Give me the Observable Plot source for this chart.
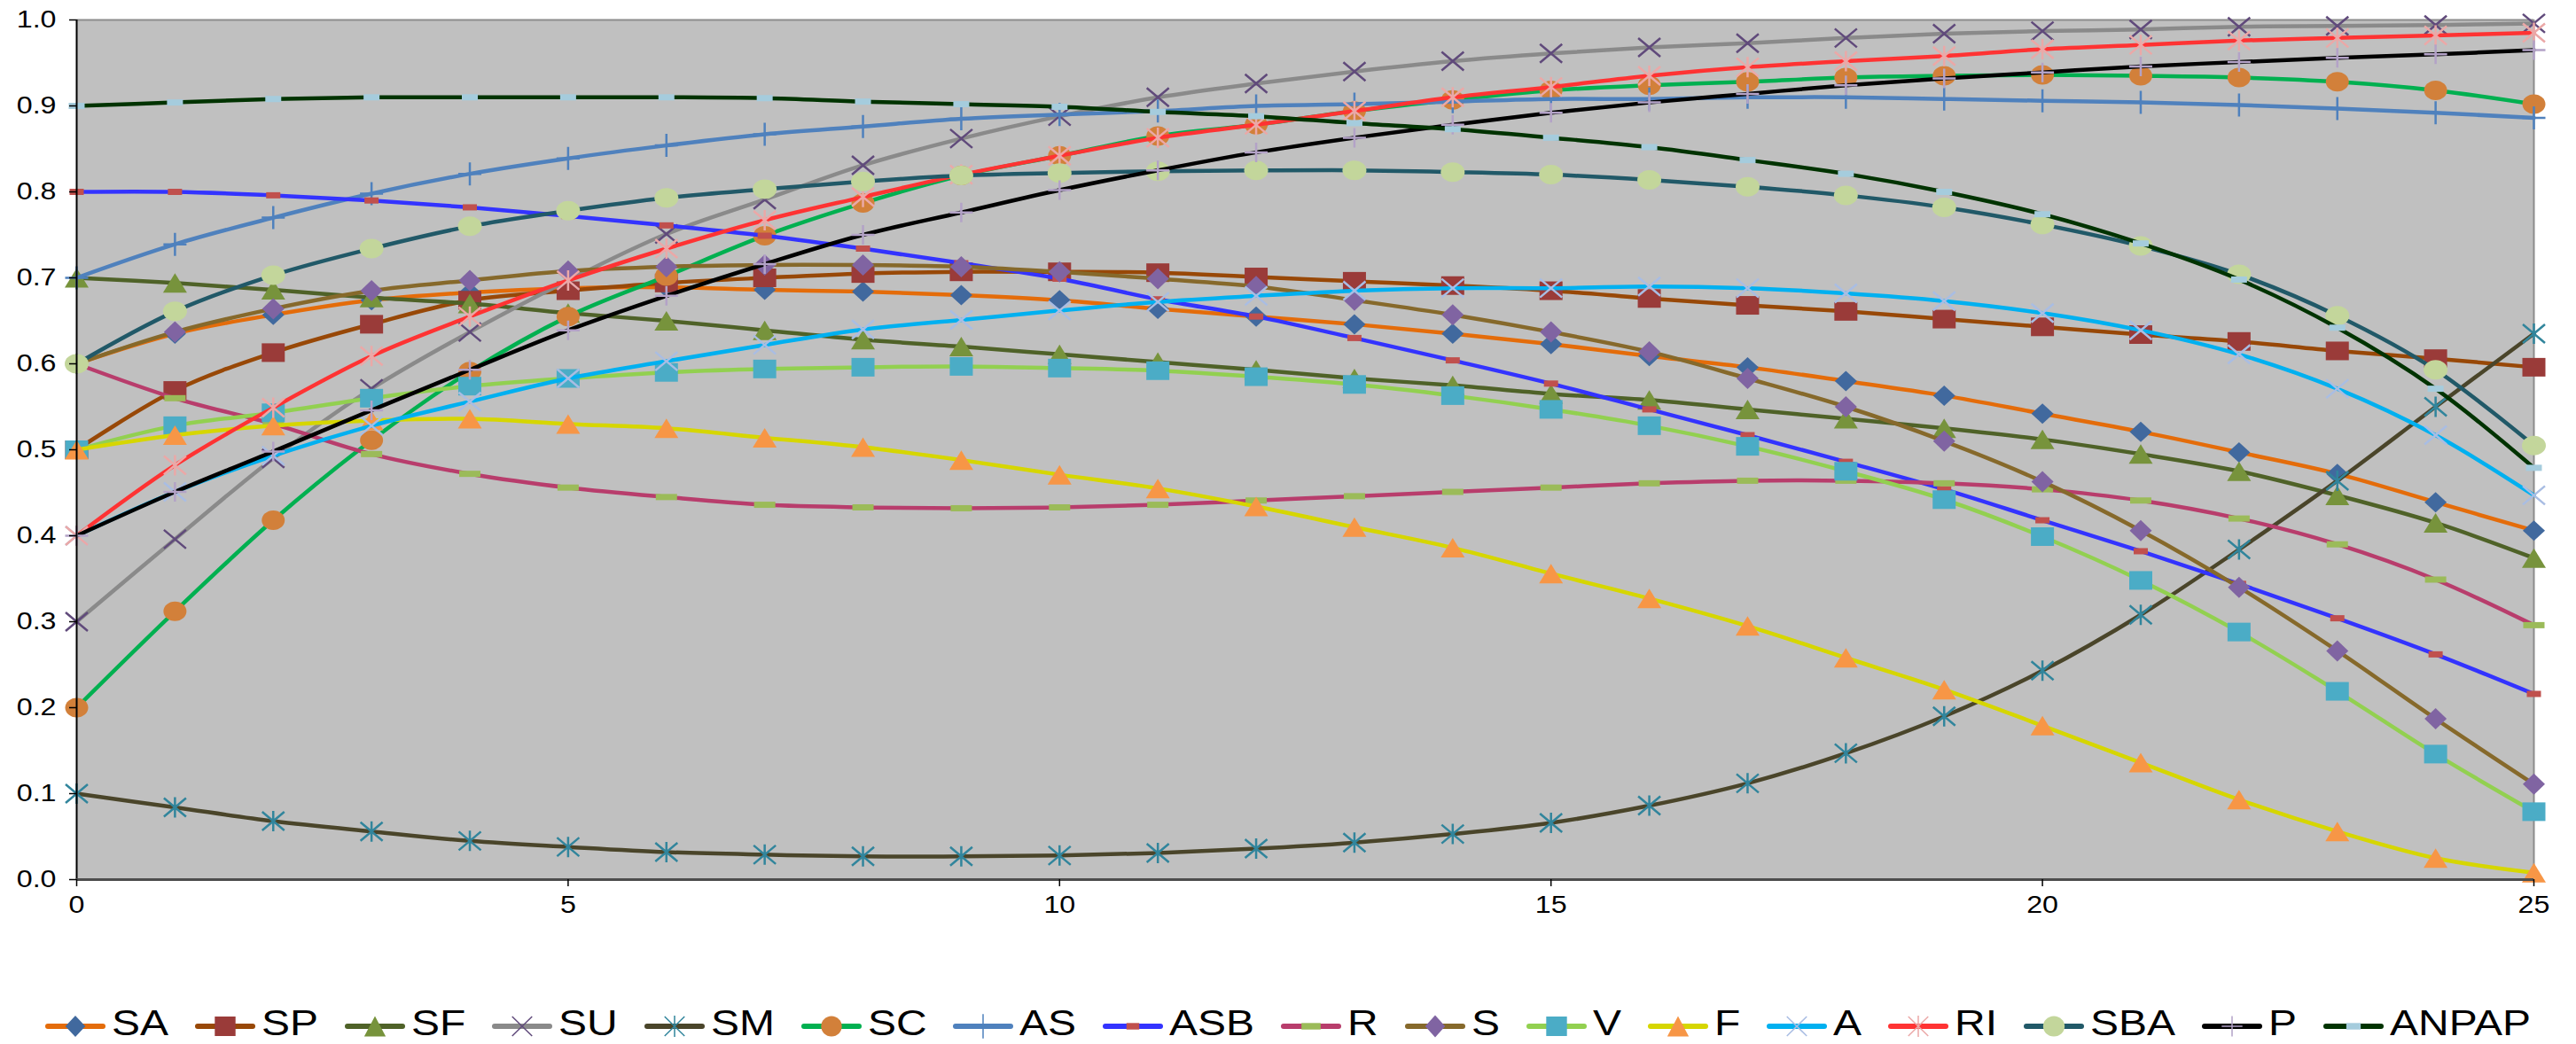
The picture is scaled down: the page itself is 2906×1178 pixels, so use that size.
<!DOCTYPE html>
<html><head><meta charset="utf-8">
<script src="https://cdn.jsdelivr.net/npm/d3@7"></script>
<script src="https://cdn.jsdelivr.net/npm/@observablehq/plot@0.6"></script>
<style>
html,body{margin:0;padding:0;background:#fff;}
#wrap{position:relative;width:2906px;height:1178px;overflow:hidden;font-family:"Liberation Sans",Arial,sans-serif;}
#chart svg{display:block;}
#legend{position:absolute;left:0;top:1134px;width:2906px;display:flex;justify-content:center;column-gap:30px;}
.item{display:flex;align-items:flex-start;column-gap:7px;}
.item svg{margin-top:11px;overflow:visible;display:block;}
.lab{font-size:41px;line-height:40px;height:40px;white-space:nowrap;color:#000;}
.lab span{display:inline-block;transform:scaleX(1.17);transform-origin:0 0;}
</style></head>
<body><div id="wrap"><div id="chart"></div><div id="legend"></div></div>
<script>
// ---- data ----
const xs = [0,1,2,3,4,5,6,7,8,9,10,11,12,13,14,15,16,17,18,19,20,21,22,23,24,25];
const xTicks = [0,5,10,15,20,25];
const yTicks = [0,0.1,0.2,0.3,0.4,0.5,0.6,0.7,0.8,0.9,1.0];
const names = ["SA","SP","SF","SU","SM","SC","AS","ASB","R","S","V","F","A","RI","SBA","P","ANPAP"];

const SA = [0.600,0.635,0.657,0.674,0.683,0.688,0.689,0.686,0.684,0.680,0.674,0.664,0.655,0.646,0.635,0.623,0.609,0.596,0.580,0.563,0.542,0.521,0.497,0.472,0.439,0.406];
const SP = [0.500,0.569,0.613,0.646,0.674,0.685,0.694,0.700,0.705,0.707,0.707,0.706,0.701,0.696,0.691,0.685,0.676,0.668,0.661,0.652,0.643,0.634,0.626,0.615,0.606,0.596];
const SF = [0.700,0.694,0.686,0.677,0.670,0.659,0.650,0.639,0.628,0.620,0.611,0.602,0.593,0.583,0.575,0.565,0.558,0.547,0.536,0.525,0.512,0.495,0.475,0.447,0.415,0.374];
const SU = [0.300,0.396,0.490,0.571,0.637,0.697,0.751,0.791,0.831,0.862,0.888,0.910,0.926,0.940,0.952,0.961,0.968,0.973,0.979,0.984,0.987,0.989,0.992,0.993,0.994,0.996];
const SM = [0.100,0.084,0.068,0.056,0.045,0.038,0.032,0.029,0.027,0.027,0.028,0.031,0.036,0.043,0.053,0.066,0.086,0.112,0.147,0.190,0.243,0.308,0.384,0.464,0.550,0.635];
const SC = [0.200,0.312,0.418,0.511,0.591,0.655,0.702,0.749,0.787,0.819,0.842,0.865,0.878,0.894,0.907,0.918,0.924,0.928,0.933,0.935,0.936,0.935,0.933,0.928,0.918,0.902];
const AS = [0.700,0.739,0.770,0.798,0.821,0.839,0.854,0.867,0.876,0.885,0.890,0.894,0.900,0.902,0.905,0.908,0.908,0.910,0.910,0.908,0.906,0.904,0.901,0.897,0.892,0.886];
const ASB = [0.800,0.800,0.796,0.790,0.782,0.772,0.761,0.749,0.734,0.717,0.699,0.675,0.655,0.630,0.604,0.577,0.547,0.517,0.486,0.454,0.418,0.382,0.344,0.304,0.262,0.216];
const R = [0.600,0.560,0.530,0.495,0.472,0.456,0.445,0.436,0.433,0.432,0.433,0.436,0.441,0.446,0.451,0.456,0.461,0.464,0.464,0.461,0.454,0.441,0.420,0.390,0.349,0.296];
const S = [0.600,0.637,0.664,0.685,0.697,0.708,0.713,0.715,0.715,0.713,0.707,0.699,0.690,0.674,0.657,0.637,0.614,0.583,0.550,0.510,0.463,0.406,0.340,0.266,0.187,0.111];
const V = [0.500,0.528,0.543,0.560,0.574,0.583,0.590,0.594,0.596,0.597,0.595,0.592,0.585,0.576,0.563,0.547,0.528,0.504,0.475,0.442,0.399,0.348,0.288,0.219,0.146,0.079];
const F = [0.500,0.517,0.528,0.534,0.536,0.530,0.525,0.514,0.503,0.488,0.471,0.455,0.434,0.410,0.386,0.356,0.327,0.295,0.258,0.221,0.179,0.136,0.093,0.056,0.025,0.008];
const A = [0.400,0.451,0.493,0.528,0.556,0.583,0.603,0.622,0.640,0.651,0.662,0.672,0.679,0.685,0.688,0.688,0.690,0.688,0.682,0.673,0.659,0.639,0.611,0.571,0.517,0.447];
const RI = [0.400,0.482,0.549,0.609,0.655,0.697,0.734,0.767,0.794,0.820,0.842,0.863,0.878,0.894,0.910,0.922,0.935,0.945,0.952,0.958,0.966,0.971,0.976,0.979,0.982,0.985];
const SBA = [0.600,0.661,0.703,0.734,0.760,0.778,0.793,0.803,0.812,0.819,0.822,0.824,0.825,0.825,0.823,0.820,0.814,0.806,0.796,0.782,0.762,0.737,0.704,0.656,0.593,0.505];
const P = [0.400,0.451,0.498,0.546,0.593,0.639,0.679,0.716,0.750,0.776,0.802,0.825,0.846,0.863,0.878,0.892,0.904,0.914,0.924,0.932,0.939,0.946,0.951,0.956,0.960,0.965];
const ANPAP = [0.900,0.904,0.908,0.910,0.910,0.910,0.910,0.909,0.905,0.902,0.899,0.893,0.888,0.880,0.873,0.863,0.852,0.837,0.821,0.800,0.774,0.740,0.698,0.642,0.571,0.479];

const values = {SA,SP,SF,SU,SM,SC,AS,ASB,R,S,V,F,A,RI,SBA,P,ANPAP};

// ---- styles ----
const shapes = {
  diamond: (hw,hh) => ({draw(c){c.moveTo(0,-hh);c.lineTo(hw,0);c.lineTo(0,hh);c.lineTo(-hw,0);c.closePath();}}),
  rect: (hw,hh) => ({draw(c){c.rect(-hw,-hh,2*hw,2*hh);}}),
  triangle: (hw,hh) => ({draw(c){c.moveTo(0,-hh);c.lineTo(hw,hh);c.lineTo(-hw,hh);c.closePath();}}),
  ellipse: (rx,ry) => ({draw(c){const k=0.5523;c.moveTo(rx,0);
    c.bezierCurveTo(rx,ry*k,rx*k,ry,0,ry);c.bezierCurveTo(-rx*k,ry,-rx,ry*k,-rx,0);
    c.bezierCurveTo(-rx,-ry*k,-rx*k,-ry,0,-ry);c.bezierCurveTo(rx*k,-ry,rx,-ry*k,rx,0);c.closePath();}}),
  x: (hw,hh) => ({draw(c){c.moveTo(-hw,-hh);c.lineTo(hw,hh);c.moveTo(hw,-hh);c.lineTo(-hw,hh);}}),
  asterisk: (hw,hh) => ({draw(c){c.moveTo(-hw,-hh);c.lineTo(hw,hh);c.moveTo(hw,-hh);c.lineTo(-hw,hh);c.moveTo(0,-hh-1);c.lineTo(0,hh+1);}}),
  plus: (hw,hh) => ({draw(c){c.moveTo(-hw,0);c.lineTo(hw,0);c.moveTo(0,-hh);c.lineTo(0,hh);}})
};
const strokeShapes = new Set(["x","asterisk","plus"]);
const style = {
  SA:   {line:"#E46C0A", shape:"diamond",  w:12.5, h:11.5, color:"#41699E"},
  SP:   {line:"#984807", shape:"rect",     w:13,   h:10.5, color:"#9A3B39"},
  SF:   {line:"#4F6228", shape:"triangle", w:13.5, h:11,   color:"#77933C"},
  SU:   {line:"#8A8A8A", shape:"x",        w:12.5, h:10.5, color:"#604A7B"},
  SM:   {line:"#4A452A", shape:"asterisk", w:12.5, h:10.5, color:"#31859C"},
  SC:   {line:"#00B050", shape:"ellipse",  w:13,   h:11,   color:"#D2803A"},
  AS:   {line:"#4F81BD", shape:"plus",     w:13,   h:13,   color:"#4F81BD"},
  ASB:  {line:"#3333FF", shape:"rect",     w:8,    h:3.5,  color:"#C0504D"},
  R:    {line:"#B83D6C", shape:"rect",     w:12,   h:3.5,  color:"#9BBB59"},
  S:    {line:"#86692B", shape:"diamond",  w:12.5, h:12,   color:"#8064A2"},
  V:    {line:"#92D050", shape:"rect",     w:13,   h:10.5, color:"#4BACC6"},
  F:    {line:"#D6D600", shape:"triangle", w:13.5, h:11,   color:"#F79646"},
  A:    {line:"#00B0F0", shape:"x",        w:12.5, h:10.5, color:"#A9BDE3"},
  RI:   {line:"#FF3333", shape:"asterisk", w:12.5, h:10.5, color:"#EBA8A7"},
  SBA:  {line:"#215968", shape:"ellipse",  w:13.5, h:11,   color:"#C3D69B"},
  P:    {line:"#000000", shape:"plus",     w:13,   h:11,   color:"#B3A2C7"},
  ANPAP:{line:"#003300", shape:"rect",     w:9,    h:3.5,  color:"#A5CCDD"}
};
const LW = 4.5;

const marks = [
  Plot.frame({fill:"#C0C0C0", stroke:"none"}),
  Plot.ruleY([1], {stroke:"#8C8C8C", strokeWidth:2}),
  Plot.ruleX([25], {stroke:"#8C8C8C", strokeWidth:2})
];
for (const n of names) {
  const st = style[n];
  const sym = shapes[st.shape](st.w, st.h);
  const isStroke = strokeShapes.has(st.shape);
  marks.push(Plot.line(values[n], {x:(d,i)=>xs[i], y:d=>d, stroke:st.line, strokeWidth:LW,
    curve:"catmull-rom", strokeLinecap:"round", strokeLinejoin:"round"}));
  marks.push(Plot.dot(values[n], {x:(d,i)=>xs[i], y:d=>d, symbol:sym, r:10,
    fill: isStroke ? "none" : st.color, stroke: isStroke ? st.color : "none",
    strokeWidth: isStroke ? 2.5 : 0}));
}
marks.push(
  Plot.ruleX([0], {stroke:"#000", strokeWidth:2}),
  Plot.ruleY([0], {stroke:"#4D4D4D", strokeWidth:3}),
  Plot.axisY({ticks:yTicks, tickFormat:d3.format(".1f"), tickSize:8, tickPadding:15, label:null, fontSize:28, strokeWidth:1.5}),
  Plot.axisX({ticks:xTicks, tickFormat:d=>String(d), tickSize:8, tickPadding:10, label:null, fontSize:28, strokeWidth:1.5})
);

const chart = Plot.plot({
  width:2906, height:1062,
  marginLeft:86, marginRight:48, marginTop:22, marginBottom:70,
  x:{domain:[0,25]}, y:{domain:[0,1]},
  style:{fontFamily:"'Liberation Sans', Arial, sans-serif", fontSize:"28px", color:"#000", background:"transparent"},
  marks
});
document.getElementById("chart").appendChild(chart);
// stretch tick labels horizontally like the source
chart.querySelectorAll("text").forEach(t => {
  const tr = t.getAttribute("transform");
  if (tr) t.setAttribute("transform", tr + " scale(1.15,1)");
});

// ---- legend ----
const legend = d3.select("#legend");
for (const n of names) {
  const st = style[n];
  const item = legend.append("div").attr("class","item");
  const sw = item.append("svg").attr("width",68).attr("height",26);
  sw.append("line").attr("x1",3).attr("x2",65).attr("y1",13).attr("y2",13)
    .attr("stroke",st.line).attr("stroke-width",6).attr("stroke-linecap","round");
  const isStroke = strokeShapes.has(st.shape);
  const p = d3.path(); shapes[st.shape](st.w*0.9, st.h*1.05).draw(p);
  sw.append("path").attr("d", p.toString()).attr("transform","translate(34,13)")
    .attr("fill", isStroke ? "none" : st.color).attr("stroke", isStroke ? st.color : "none")
    .attr("stroke-width", isStroke ? 1.5 : 0);
  const lab = item.append("div").attr("class","lab");
  const inner = lab.append("span").text(n);
  lab.style("width", inner.node().getBoundingClientRect().width + "px");
}
</script>
</body></html>
